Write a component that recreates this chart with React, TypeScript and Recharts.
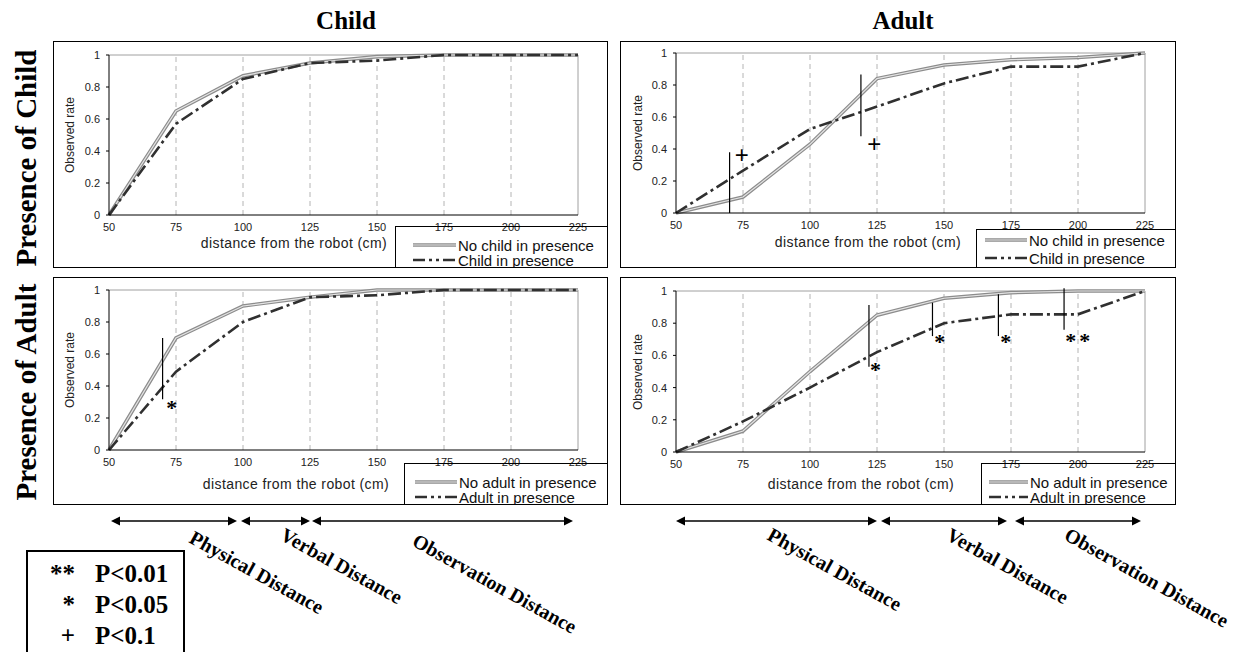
import { LineChart, Line, XAxis, YAxis, ReferenceLine, ReferenceDot } from 'recharts';

const distances = [50, 75, 100, 125, 150, 175, 200, 225];
const gridDistances = [75, 100, 125, 150, 175, 200];
const rateTicks = [0, 0.2, 0.4, 0.6, 0.8, 1];

// observed rate, child subjects
const childNoChild = [0, 0.65, 0.87, 0.95, 0.99, 1, 1, 1];
const childWithChild = [0, 0.57, 0.85, 0.95, 0.965, 1, 1, 1];
const childNoAdult = [0, 0.7, 0.9, 0.955, 1, 1, 1, 1];
const childWithAdult = [0, 0.49, 0.8, 0.955, 0.967, 1, 1, 1];

// observed rate, adult subjects
const adultNoChild = [0, 0.1, 0.43, 0.84, 0.925, 0.958, 0.972, 1];
const adultWithChild = [0, 0.265, 0.525, 0.665, 0.81, 0.915, 0.915, 1];
const adultNoAdult = [0, 0.13, 0.5, 0.85, 0.955, 0.99, 1, 1];
const adultWithAdult = [0, 0.19, 0.4, 0.62, 0.8, 0.855, 0.855, 1];

type Mark = { x: number; y1: number; y2: number; sx: number; sy: number; sym: string };

// significance bars (distance, rate range) and their symbol
const marksChildChild: Mark[] = [];
const marksAdultChild: Mark[] = [
  { x: 70, y1: 0, y2: 0.38, sx: 74.5, sy: 0.365, sym: '+' },
  { x: 119, y1: 0.48, y2: 0.865, sx: 124, sy: 0.43, sym: '+' },
];
const marksChildAdult: Mark[] = [{ x: 70, y1: 0.317, y2: 0.7, sx: 74, sy: 0.29, sym: '*' }];
const marksAdultAdult: Mark[] = [
  { x: 122, y1: 0.53, y2: 0.913, sx: 125, sy: 0.535, sym: '*' },
  { x: 145.7, y1: 0.72, y2: 0.927, sx: 149, sy: 0.705, sym: '*' },
  { x: 170.3, y1: 0.72, y2: 0.98, sx: 173.6, sy: 0.705, sym: '*' },
  { x: 194.8, y1: 0.76, y2: 1.017, sx: 200.5, sy: 0.715, sym: '**' },
];

const columnTitles = ['Child', 'Adult'];
const rowTitles = ['Presence of Child', 'Presence of Adult'];
const zoneNames = ['Physical Distance', 'Verbal Distance', 'Observation Distance'];
const pLevels = [
  { sym: '**', text: 'P<0.01' },
  { sym: '*', text: 'P<0.05' },
  { sym: '+', text: 'P<0.1' },
];

const DASH = '13 4 3 4';
const SERIF = '"Liberation Serif", "Times New Roman", serif';
const SANS = '"Liberation Sans", Arial, sans-serif';

const buildRows = (a: number[], b: number[]) => distances.map((d, i) => ({ d, a: a[i], b: b[i] }));

const sigLabel = (sym: string) => (props: any) => {
  const vb = props.viewBox || {};
  const cx = (vb.x || 0) + (vb.width || 0) / 2;
  const cy = (vb.y || 0) + (vb.height || 0) / 2;
  if (sym === '+') {
    return (
      <text x={cx} y={cy + 8} textAnchor="middle" fontSize={24} fontFamily={SANS} fill="#000">
        +
      </text>
    );
  }
  return (
    <text x={cx} y={cy + 11} textAnchor="middle" fontSize={22} fontWeight="bold" fontFamily={SERIF} letterSpacing={3} fill="#000">
      {sym}
    </text>
  );
};

type PanelProps = {
  left: number;
  top: number;
  width: number;
  height: number;
  plot: { left: number; right: number; top: number; bottom: number };
  a: number[];
  b: number[];
  names: [string, string];
  marks: Mark[];
  legend: { left: number; top: number; rowA: number; rowB: number; sampleX: number; textX: number };
  xLabel: { cx: number; cy: number };
  yLabel: { cx: number; cy: number };
};

function Panel({ left, top, width, height, plot, a, b, names, marks, legend, xLabel, yLabel }: PanelProps) {
  const rows = buildRows(a, b);
  const lgW = left + width - legend.left;
  const lgH = top + height - legend.top;
  return (
    <div style={{ position: 'absolute', left, top, width, height }}>
      <LineChart width={width} height={height} data={rows} margin={{ top: plot.top, right: plot.right, left: 0, bottom: 0 }}>
        <XAxis
          dataKey="d"
          type="number"
          domain={[50, 225]}
          ticks={distances}
          interval={0}
          height={plot.bottom}
          tickLine={false}
          tickSize={3}
          tickMargin={5}
          axisLine={{ stroke: '#000', strokeWidth: 1 }}
          tick={{ fill: '#222', fontSize: 11, fontFamily: SANS }}
        />
        <YAxis
          type="number"
          domain={[0, 1]}
          ticks={rateTicks}
          interval={0}
          width={plot.left}
          tickSize={3}
          tickMargin={6}
          axisLine={{ stroke: '#000', strokeWidth: 1 }}
          tickLine={{ stroke: '#000' }}
          tick={{ fill: '#222', fontSize: 11, fontFamily: SANS }}
        />
        {gridDistances.map((g) => (
          <ReferenceLine key={'g' + g} x={g} stroke="#b4b4b4" strokeDasharray="5 4" />
        ))}
        <ReferenceLine y={1} stroke="#a0a0a0" />
        <ReferenceLine x={225} stroke="#a0a0a0" />
        <Line dataKey="a" type="linear" stroke="#8c8c8c" strokeWidth={3.6} dot={false} isAnimationActive={false} />
        <Line dataKey="a" type="linear" stroke="#e4e4e4" strokeWidth={1.2} dot={false} isAnimationActive={false} />
        <Line dataKey="b" type="linear" stroke="#303030" strokeWidth={2.6} strokeDasharray={DASH} dot={false} isAnimationActive={false} />
        {marks.map((m, i) => (
          <ReferenceLine
            key={'m' + i}
            segment={[
              { x: m.x, y: m.y1 },
              { x: m.x, y: m.y2 },
            ]}
            stroke="#000"
            strokeWidth={1.2}
            ifOverflow="visible"
          />
        ))}
        {marks.map((m, i) => (
          <ReferenceDot key={'s' + i} x={m.sx} y={m.sy} r={1} fill="none" stroke="none" ifOverflow="visible" label={sigLabel(m.sym)} />
        ))}
      </LineChart>
      <svg width={width} height={height} style={{ position: 'absolute', left: 0, top: 0, pointerEvents: 'none' }}>
        <text
          x={yLabel.cx - left}
          y={yLabel.cy - top}
          transform={`rotate(-90 ${yLabel.cx - left} ${yLabel.cy - top})`}
          textAnchor="middle"
          dominantBaseline="central"
          fontSize={12}
          fontFamily={SANS}
          fill="#222"
        >
          Observed rate
        </text>
        <text
          x={xLabel.cx - left}
          y={xLabel.cy - top}
          textAnchor="middle"
          dominantBaseline="central"
          fontSize={14}
          letterSpacing={0.4}
          fontFamily={SANS}
          fill="#222"
        >
          distance from the robot (cm)
        </text>
      </svg>
      <div
        style={{
          position: 'absolute',
          left: legend.left - left,
          top: legend.top - top,
          width: lgW,
          height: lgH,
          boxSizing: 'border-box',
          border: '1px solid #000',
          overflow: 'hidden',
        }}
      >
        <svg width={lgW} height={lgH} style={{ position: 'absolute', left: -1, top: -1 }}>
          <line x1={legend.sampleX - legend.left} x2={legend.textX - legend.left - 2} y1={legend.rowA - legend.top} y2={legend.rowA - legend.top} stroke="#8c8c8c" strokeWidth={3.6} />
          <line x1={legend.sampleX - legend.left} x2={legend.textX - legend.left - 2} y1={legend.rowA - legend.top} y2={legend.rowA - legend.top} stroke="#e4e4e4" strokeWidth={1.2} />
          <line x1={legend.sampleX - legend.left} x2={legend.textX - legend.left - 2} y1={legend.rowB - legend.top} y2={legend.rowB - legend.top} stroke="#303030" strokeWidth={2.6} strokeDasharray="12 4 3 4 3 4" />
          <text x={legend.textX - legend.left} y={legend.rowA - legend.top} dominantBaseline="central" fontSize={15} fontFamily={SANS} fill="#111">
            {names[0]}
          </text>
          <text x={legend.textX - legend.left} y={legend.rowB - legend.top} dominantBaseline="central" fontSize={15} fontFamily={SANS} fill="#111">
            {names[1]}
          </text>
        </svg>
      </div>
      <div style={{ position: 'absolute', inset: 0, boxSizing: 'border-box', border: '1.5px solid #000', pointerEvents: 'none' }} />
    </div>
  );
}

function Arrow({ x1, x2, y }: { x1: number; x2: number; y: number }) {
  const h = 9;
  const w = 4.5;
  return (
    <g>
      <line x1={x1 + h - 1} x2={x2 - h + 1} y1={y} y2={y} stroke="#000" strokeWidth={1.6} />
      <polygon points={`${x1},${y} ${x1 + h},${y - w} ${x1 + h},${y + w}`} fill="#000" />
      <polygon points={`${x2},${y} ${x2 - h},${y - w} ${x2 - h},${y + w}`} fill="#000" />
    </g>
  );
}

export default function App() {
  const arrowY = 521;
  const arrows = [
    [111, 237],
    [241, 310],
    [312, 573],
    [676, 877],
    [881, 1007],
    [1015, 1141],
  ];
  const zoneLabels = [
    { t: zoneNames[0], x: 188, y: 542 },
    { t: zoneNames[1], x: 279, y: 539 },
    { t: zoneNames[2], x: 411, y: 545 },
    { t: zoneNames[0], x: 766, y: 539 },
    { t: zoneNames[1], x: 945, y: 539 },
    { t: zoneNames[2], x: 1063, y: 539 },
  ];
  return (
    <div style={{ position: 'absolute', left: 0, top: 0, width: 1246, height: 652, background: '#fff', overflow: 'hidden' }}>
      <svg width={1246} height={652} style={{ position: 'absolute', left: 0, top: 0 }}>
        <text x={346} y={29} textAnchor="middle" fontSize={25} fontWeight="bold" fontFamily={SERIF}>
          {columnTitles[0]}
        </text>
        <text x={903} y={29} textAnchor="middle" fontSize={25} fontWeight="bold" fontFamily={SERIF}>
          {columnTitles[1]}
        </text>
        <text x={36} y={158} transform="rotate(-90 36 158)" textAnchor="middle" fontSize={29} fontWeight="bold" fontFamily={SERIF}>
          {rowTitles[0]}
        </text>
        <text x={36} y={392} transform="rotate(-90 36 392)" textAnchor="middle" fontSize={29} fontWeight="bold" fontFamily={SERIF}>
          {rowTitles[1]}
        </text>
        {arrows.map(([x1, x2], i) => (
          <Arrow key={i} x1={x1} x2={x2} y={arrowY} />
        ))}
        {zoneLabels.map((z, i) => (
          <text key={i} x={z.x} y={z.y} transform={`rotate(29 ${z.x} ${z.y})`} fontSize={20} fontWeight="bold" fontFamily={SERIF}>
            {z.t}
          </text>
        ))}
        <rect x={27} y={551} width={157} height={130} fill="none" stroke="#000" strokeWidth={2} />
        {pLevels.map((p, i) => (
          <g key={i}>
            <text x={75} y={582 + i * 31} textAnchor="end" fontSize={25} fontWeight="bold" fontFamily={SERIF}>
              {p.sym}
            </text>
            <text x={95} y={582 + i * 31} fontSize={25} fontWeight="bold" fontFamily={SERIF}>
              {p.text}
            </text>
          </g>
        ))}
      </svg>
      <Panel
        left={53}
        top={41}
        width={555}
        height={227}
        plot={{ left: 56, right: 30, top: 14, bottom: 53 }}
        a={childNoChild}
        b={childWithChild}
        names={['No child in presence', 'Child in presence']}
        marks={marksChildChild}
        legend={{ left: 395, top: 226, rowA: 245, rowB: 260, sampleX: 413, textX: 458 }}
        xLabel={{ cx: 294, cy: 243 }}
        yLabel={{ cx: 70, cy: 135 }}
      />
      <Panel
        left={620}
        top={41}
        width={556}
        height={227}
        plot={{ left: 56, right: 31, top: 12, bottom: 55 }}
        a={adultNoChild}
        b={adultWithChild}
        names={['No child in presence', 'Child in presence']}
        marks={marksAdultChild}
        legend={{ left: 976, top: 229, rowA: 240, rowB: 258, sampleX: 985, textX: 1029 }}
        xLabel={{ cx: 868, cy: 242 }}
        yLabel={{ cx: 638, cy: 133 }}
      />
      <Panel
        left={53}
        top={277}
        width={555}
        height={228}
        plot={{ left: 56, right: 30, top: 13, bottom: 55 }}
        a={childNoAdult}
        b={childWithAdult}
        names={['No adult in presence', 'Adult in presence']}
        marks={marksChildAdult}
        legend={{ left: 404, top: 463, rowA: 482, rowB: 497, sampleX: 415, textX: 459 }}
        xLabel={{ cx: 296, cy: 484 }}
        yLabel={{ cx: 70, cy: 370 }}
      />
      <Panel
        left={620}
        top={277}
        width={556}
        height={228}
        plot={{ left: 56, right: 31, top: 14, bottom: 53 }}
        a={adultNoAdult}
        b={adultWithAdult}
        names={['No adult in presence', 'Adult in presence']}
        marks={marksAdultAdult}
        legend={{ left: 981, top: 463, rowA: 482, rowB: 497, sampleX: 989, textX: 1030 }}
        xLabel={{ cx: 861, cy: 484 }}
        yLabel={{ cx: 638, cy: 372 }}
      />
    </div>
  );
}
